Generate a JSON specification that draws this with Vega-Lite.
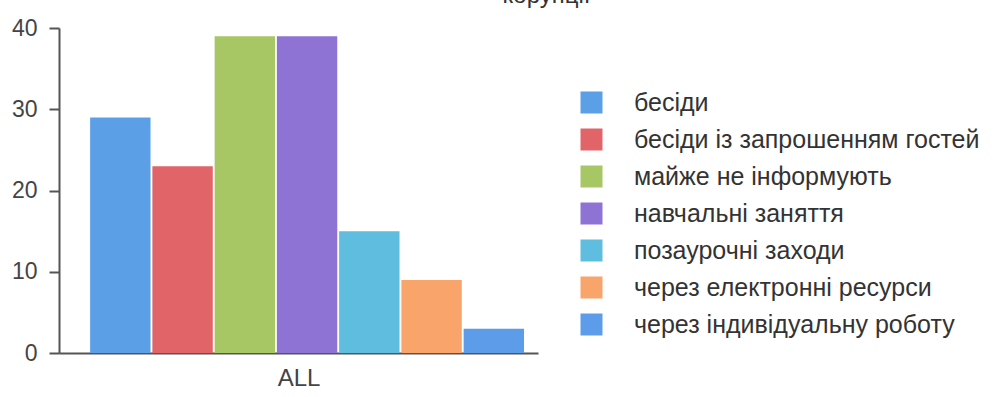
{
  "$schema": "https://vega.github.io/schema/vega-lite/v6.json",
  "width": 479,
  "height": 325,
  "autosize": "none",
  "padding": {"left": 59, "top": 28, "right": 455, "bottom": 44},
  "background": "white",
  "config": {
    "font": "Liberation Sans",
    "view": {"stroke": null}
  },
  "title": {
    "text": "корупції",
    "frame": "group",
    "anchor": "middle",
    "dx": 248,
    "offset": -10,
    "baseline": "alphabetic",
    "fontSize": 24,
    "fontWeight": "normal",
    "color": "#333"
  },
  "data": {
    "values": [
      {"g": "ALL", "cat": "бесіди", "v": 29},
      {"g": "ALL", "cat": "бесіди із запрошенням гостей", "v": 23},
      {"g": "ALL", "cat": "майже не інформують", "v": 39},
      {"g": "ALL", "cat": "навчальні заняття", "v": 39},
      {"g": "ALL", "cat": "позаурочні заходи", "v": 15},
      {"g": "ALL", "cat": "через електронні ресурси", "v": 9},
      {"g": "ALL", "cat": "через індивідуальну роботу", "v": 3}
    ]
  },
  "mark": {"type": "bar"},
  "encoding": {
    "x": {
      "field": "g",
      "type": "nominal",
      "scale": {"paddingOuter": 0.052, "paddingInner": 0, "align": 0.69},
      "axis": {
        "title": "ALL",
        "labels": false,
        "ticks": false,
        "domainColor": "#555",
        "domainWidth": 2,
        "titleFontSize": 24,
        "titleFontWeight": "normal",
        "titleColor": "#444",
        "titlePadding": 13
      }
    },
    "xOffset": {
      "field": "cat",
      "type": "nominal",
      "sort": null,
      "scale": {"paddingInner": 0.03}
    },
    "y": {
      "field": "v",
      "type": "quantitative",
      "scale": {"domain": [0, 40], "nice": false},
      "axis": {
        "title": null,
        "values": [0, 10, 20, 30, 40],
        "grid": false,
        "domainColor": "#555",
        "domainWidth": 2,
        "tickColor": "#555",
        "tickWidth": 2,
        "tickSize": 10,
        "labelPadding": 12,
        "labelFontSize": 23,
        "labelColor": "#444"
      }
    },
    "color": {
      "field": "cat",
      "type": "nominal",
      "scale": {
        "domain": ["бесіди", "бесіди із запрошенням гостей", "майже не інформують", "навчальні заняття", "позаурочні заходи", "через електронні ресурси", "через індивідуальну роботу"],
        "range": ["#5b9fe6", "#e06468", "#a7c765", "#8e72d4", "#5fbde0", "#f8a46a", "#5c9ce8"]
      },
      "legend": {
        "title": null,
        "orient": "none",
        "legendX": 520,
        "legendY": 62,
        "symbolType": "square",
        "symbolSize": 484,
        "symbolStrokeWidth": 0,
        "symbolOpacity": 1,
        "labelFontSize": 25,
        "labelColor": "#333",
        "labelOffset": 30,
        "labelLimit": 500,
        "rowPadding": 11
      }
    }
  }
}
